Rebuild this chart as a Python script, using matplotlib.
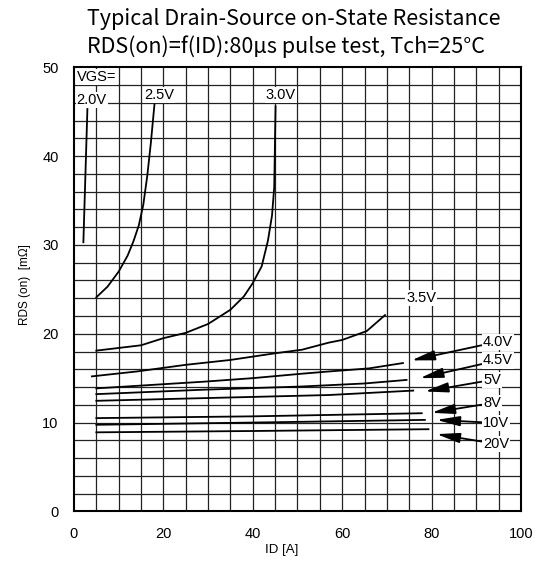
import numpy as np
import matplotlib.pyplot as plt

# RDS(on) curves: ID [A], RDS(on) [mOhm]
id_20 = [2.1, 3.0]
r_20 = [30.3, 45.3]

id_25 = [5, 7.5, 10, 12, 13.3, 14.5, 15.5, 16.4, 17.2, 18]
r_25 = [24.1, 25.3, 27.0, 28.8, 30.4, 32.2, 34.5, 37.8, 41.5, 45.8]

id_30 = [5, 15, 20, 25, 30, 35, 38, 40, 42.0, 43.4, 44.3, 44.8, 45.1]
r_30 = [18.1, 18.7, 19.5, 20.1, 21.1, 22.7, 24.2, 25.7, 27.6, 30.5, 33.3, 36.5, 45.6]

id_35 = [4, 14, 25, 35, 45, 51, 57, 60, 65.5, 69.6]
r_35 = [15.2, 15.75, 16.5, 17.05, 17.8, 18.2, 19.0, 19.3, 20.3, 22.1]

id_40 = [5, 29, 40, 51, 57, 66, 73.6]
r_40 = [13.85, 14.6, 15.0, 15.5, 15.75, 16.1, 16.7]

id_45 = [5, 29, 51, 65, 74.4]
r_45 = [13.2, 13.7, 14.06, 14.4, 14.8]

id_5 = [5, 29, 57, 75.9]
r_5 = [12.45, 12.75, 13.1, 13.6]

id_8 = [5, 40, 77.8]
r_8 = [10.5, 10.7, 11.05]

id_10 = [5, 40, 78.5]
r_10 = [9.75, 10.0, 10.3]

id_20v = [5, 40, 79.3]
r_20v = [8.9, 9.05, 9.25]

# arrow labels: text, label anchor (x, y), arrow tip (x, y)
arrow_labels = ['4.0V', '4.5V', '5V', '8V', '10V', '20V']
arrow_text_xy = [(91.5, 19.1), (91.5, 17.0), (91.5, 14.8), (91.5, 12.2), (91.5, 9.95), (91.5, 7.6)]
arrow_tip_xy = [(75.5, 17.0), (77.4, 15.0), (78.5, 13.5), (80.0, 11.1), (81.1, 10.3), (81.1, 8.7)]

fig = plt.figure(figsize=(5.58, 5.64), dpi=100)
ax = fig.add_axes([0.1326, 0.0933, 0.801, 0.7874])

ax.set_xlim(0, 100)
ax.set_ylim(0, 50)

# grid: every 5 A and every 2 mOhm
for gx in np.arange(5, 100, 5):
    ax.axvline(gx, color='#222222', lw=0.9, zorder=1)
for gy in np.arange(2, 50, 2):
    ax.axhline(gy, color='#222222', lw=0.9, zorder=1)

curves = [(id_20, r_20), (id_25, r_25), (id_30, r_30), (id_35, r_35), (id_40, r_40),
          (id_45, r_45), (id_5, r_5), (id_8, r_8), (id_10, r_10), (id_20v, r_20v)]
for xs, ys in curves:
    ax.plot(xs, ys, color='black', lw=1.3, zorder=3)

lab_kw = dict(fontsize=10.5, family='Liberation Sans', zorder=4,
              bbox=dict(facecolor='white', edgecolor='none', pad=0.8))
ax.text(0.6, 48.9, 'VGS=', ha='left', va='center', **lab_kw)
ax.text(0.6, 46.3, '2.0V', ha='left', va='center', **lab_kw)
ax.text(19.0, 46.9, '2.5V', ha='center', va='center', **lab_kw)
ax.text(46.3, 46.9, '3.0V', ha='center', va='center', **lab_kw)
ax.text(77.7, 24.0, '3.5V', ha='center', va='center', **lab_kw)

for txt, (tx, ty), (px, py) in zip(arrow_labels, arrow_text_xy, arrow_tip_xy):
    ax.annotate(txt, xy=(px, py), xytext=(tx, ty), ha='left', va='center',
                arrowprops=dict(arrowstyle='-|>,head_length=1.4,head_width=0.3',
                                color='black', lw=1.3,
                                mutation_scale=10, shrinkA=0, shrinkB=0),
                **lab_kw)

for s in ax.spines.values():
    s.set_linewidth(1.5)
ax.set_xticks(np.arange(0, 101, 20))
ax.set_yticks(np.arange(0, 51, 10))
ax.tick_params(axis='x', length=0, pad=11, labelsize=10.5)
ax.tick_params(axis='y', length=0, pad=11, labelsize=10.5)
for t in ax.get_xticklabels() + ax.get_yticklabels():
    t.set_family('Liberation Sans')

fig.text(0.045, 0.495, 'RDS (on)  [m\u03a9]', rotation=90, ha='center', va='center',
         fontsize=8.5, family='Liberation Sans')
fig.text(0.505, 0.025, 'ID [A]', ha='center', va='center', fontsize=9.5, family='Liberation Sans')

fig.text(0.156, 0.966, 'Typical Drain-Source on-State Resistance', ha='left', va='center',
         fontsize=15.5, family=['Noto Sans CJK JP', 'DejaVu Sans'])
fig.text(0.156, 0.918, 'RDS(on)=f(ID):80\u03bcs pulse test, Tch=25\u00b0C', ha='left', va='center',
         fontsize=15.5, family=['Noto Sans CJK JP', 'DejaVu Sans'])

fig.savefig('out.png', dpi=100)
